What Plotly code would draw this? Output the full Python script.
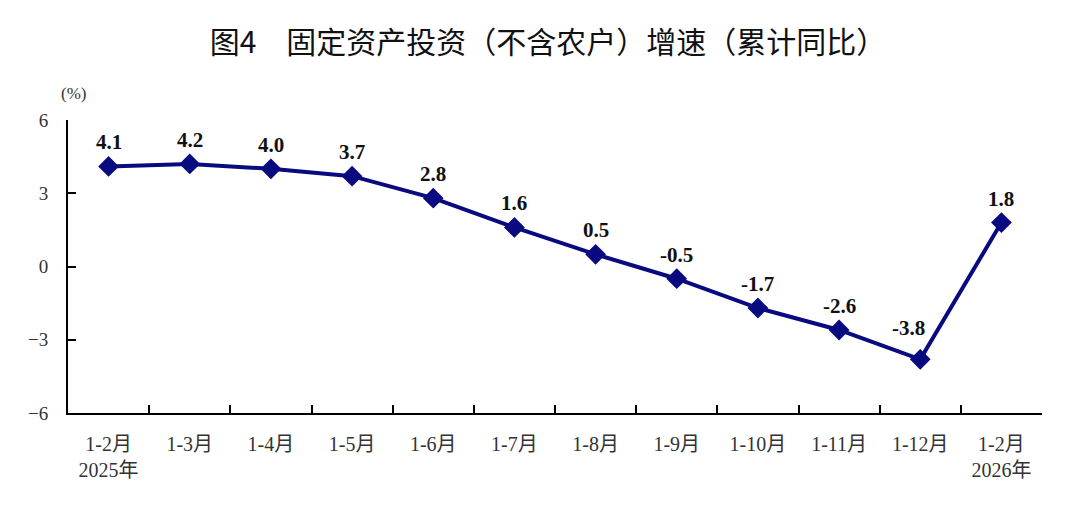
import plotly.graph_objects as go

# 固定资产投资（不含农户）累计同比增速
periods = ["1-2月<br>2025年", "1-3月", "1-4月", "1-5月", "1-6月", "1-7月", "1-8月",
           "1-9月", "1-10月", "1-11月", "1-12月", "1-2月<br>2026年"]
growth = [4.1, 4.2, 4.0, 3.7, 2.8, 1.6, 0.5, -0.5, -1.7, -2.6, -3.8, 1.8]
y_ticks = [-6, -3, 0, 3, 6]

navy = "#0a0a80"
serif = "Liberation Serif, Times New Roman, Noto Sans CJK SC"

fig = go.Figure()
fig.add_trace(go.Scatter(
    x=periods, y=growth, mode="lines+markers",
    line=dict(color=navy, width=4),
    marker=dict(symbol="diamond", size=16, color=navy),
    cliponaxis=False, showlegend=False,
))

# value labels above each point; the low point's label sits up-left, off the rising line
low = growth.index(min(growth))
for i, (p, v) in enumerate(zip(periods, growth)):
    dx, dy = (-12, 31) if i == low else (0, 24)
    fig.add_annotation(x=p, y=v, text=f"<b>{v:.1f}</b>", showarrow=False,
                       xshift=dx, yshift=dy,
                       font=dict(family=serif, size=21, color="#111"))

fig.add_annotation(text="(%)", xref="paper", yref="paper", x=0.006, y=1.092,
                   xanchor="center", yanchor="middle", showarrow=False,
                   font=dict(family=serif, size=17, color="#333"))

# page body adds 8px offset, margins compensate
fig.update_layout(
    width=1080, height=517,
    margin=dict(l=60, r=46, t=112, b=112, autoexpand=False),
    plot_bgcolor="white", paper_bgcolor="white",
    title=dict(text="图4　固定资产投资（不含农户）增速（累计同比）",
               x=0.5, xanchor="center", y=0.934, yanchor="middle",
               font=dict(family="Noto Sans CJK SC", size=30, color="#111")),
)
fig.update_xaxes(
    type="category", range=[-0.5, len(periods) - 0.5],
    showline=True, linecolor="black", linewidth=2,
    ticks="inside", tickson="boundaries", ticklen=8, tickwidth=2, tickcolor="black",
    showgrid=False, zeroline=False, ticklabelstandoff=12,
    tickfont=dict(family=serif, size=20, color="#333"),
)
fig.update_yaxes(
    range=[-6, 6], tickvals=y_ticks, showline=True, linecolor="black", linewidth=2,
    ticks="inside", ticklen=8, tickwidth=2, tickcolor="black",
    showgrid=False, zeroline=False, ticklabelstandoff=14,
    tickfont=dict(family=serif, size=19, color="#333"),
)

fig.write_html("out.html")
